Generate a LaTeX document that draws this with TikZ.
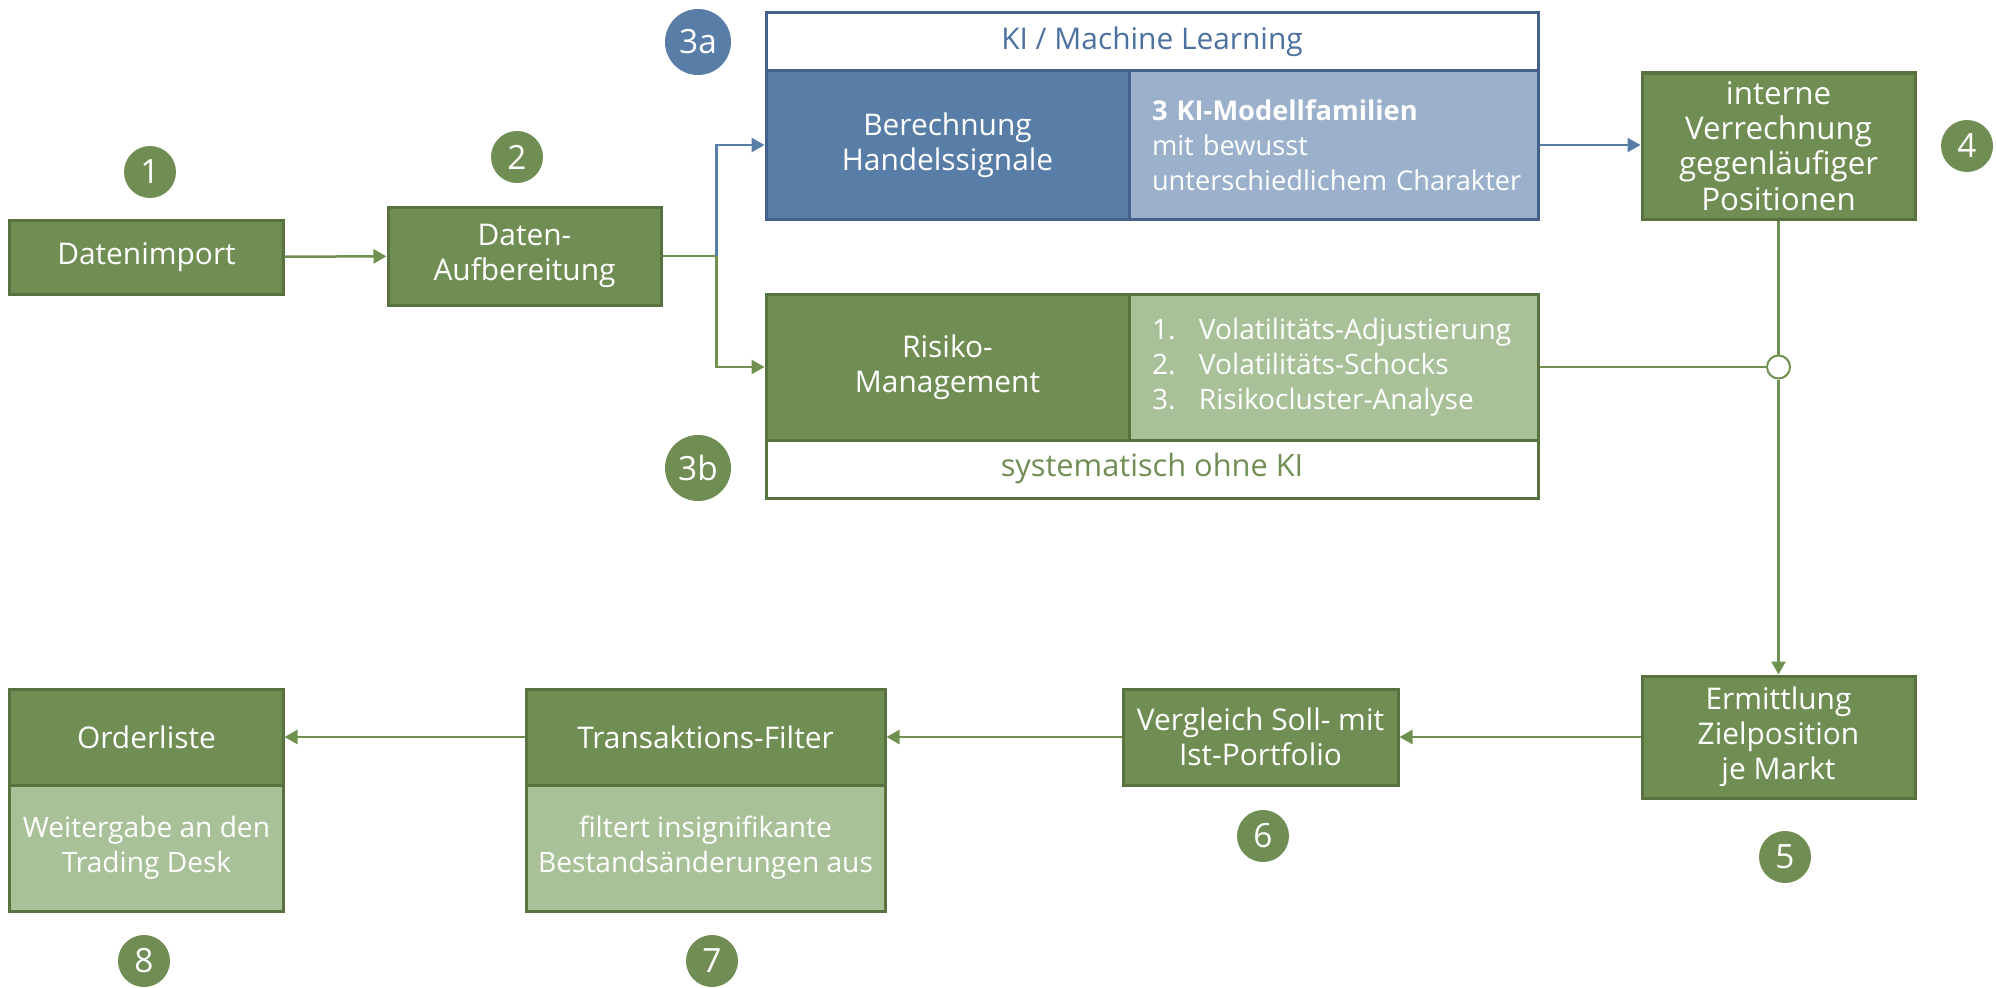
\documentclass[tikz,border=0pt]{standalone}
\usepackage{fontspec}
\setmainfont{Open Sans}
\usetikzlibrary{arrows.meta}
\definecolor{grdark}{HTML}{708E53}
\definecolor{grborder}{HTML}{587340}
\definecolor{grlight}{HTML}{A9C198}
\definecolor{grline}{HTML}{70904F}
\definecolor{bldark}{HTML}{587DA6}
\definecolor{bllight}{HTML}{9BB0CA}
\definecolor{blborder}{HTML}{43618A}
\definecolor{bltext}{HTML}{4C70A0}
\tikzset{
  txt/.style={font=\fontsize{17pt}{20pt}\selectfont, inner sep=0pt},
  gbox/.style={txt, rectangle, draw=grborder, line width=0.6mm, fill=grdark, text=white, align=center},
  glight/.style={gbox, fill=grlight, font=\fontsize{16pt}{20pt}\selectfont},
  bbox/.style={txt, rectangle, draw=blborder, line width=0.6mm, fill=bldark, text=white, align=center},
  blight/.style={bbox, fill=bllight, font=\fontsize{15.5pt}{20pt}\selectfont},
  num/.style={circle, fill=grdark, text=white, minimum size=10.4mm, inner sep=0pt, font=\fontsize{19pt}{22pt}\selectfont},
  bignum/.style={num, minimum size=13.2mm},
  conn/.style={draw=grline, line width=0.5mm},
  arr/.style={conn, -{Triangle[length=2.6mm,width=2.8mm]}},
  junc/.style={circle, draw=grline, fill=white, line width=0.4mm, minimum size=4.6mm, inner sep=0pt}
}
\begin{document}
\begin{tikzpicture}[x=0.2mm,y=-0.2mm]
\useasboundingbox (0,0) rectangle (1996,987);

% top row
\node[gbox, minimum width=54.6mm, minimum height=14.8mm] (datimp) at (146.5,257) {Datenimport};
\node[gbox, minimum width=54.6mm, minimum height=19.6mm] (aufb) at (524.5,256) {Daten-\\Aufbereitung};

% 3a: KI block
\node[txt, rectangle, draw=blborder, line width=0.6mm, fill=white, text=bltext, minimum width=154.4mm, minimum height=11.6mm] (kihead) at (1152,42) {KI / Machine Learning};
\node[bbox, minimum width=72.6mm, minimum height=29.6mm] (berech) at (947.5,145) {Berechnung\\Handelssignale};
\node[blight, minimum width=81.8mm, minimum height=29.6mm, align=left, text width=72.6mm, inner xsep=4.6mm] (kimod) at (1333.5,145)
  {\textbf{3 KI-Modellfamilien}\\mit bewusst\\\hbox{unterschiedlichem Charakter}};

% 3b: Risiko block
\node[gbox, minimum width=72.6mm, minimum height=29.2mm] (risiko) at (947.5,367) {Risiko-\\Management};
\node[glight, minimum width=81.8mm, minimum height=29.2mm, align=left, text width=72.6mm, inner xsep=4.6mm] (risklist) at (1333.5,367)
  {\makebox[9.4mm][l]{1.}Volatilitäts-Adjustierung\\\makebox[9.4mm][l]{2.}Volatilitäts-Schocks\\\makebox[9.4mm][l]{3.}Risikocluster-Analyse};
\node[txt, rectangle, draw=grborder, line width=0.6mm, fill=white, text=grdark, minimum width=154.4mm, minimum height=11.6mm, font=\fontsize{17.5pt}{20pt}\selectfont] (riskfoot) at (1152,469) {systematisch ohne KI};

% right column
\node[gbox, minimum width=54.6mm, minimum height=29.2mm, font=\fontsize{17.8pt}{20pt}\selectfont] (intern) at (1778.5,146) {interne\\Verrechnung\\gegenläufiger\\Positionen};
\node[gbox, minimum width=54.6mm, minimum height=24.4mm] (ermitt) at (1778.5,737) {Ermittlung\\Zielposition\\je Markt};

% bottom row
\node[gbox, minimum width=55mm, minimum height=19.2mm] (vergl) at (1260.5,737) {Vergleich Soll- mit\\Ist-Portfolio};
\node[gbox, minimum width=71.8mm, minimum height=19.2mm] (transf) at (705.5,737) {Transaktions-Filter};
\node[glight, minimum width=71.8mm, minimum height=25.2mm] (transd) at (705.5,848) {filtert insignifikante\\Bestandsänderungen aus};
\node[gbox, minimum width=54.6mm, minimum height=19.2mm] (order) at (146.5,737) {Orderliste};
\node[glight, minimum width=54.6mm, minimum height=25.2mm] (orderd) at (146.5,848) {Weitergabe an den\\Trading Desk};

% numbers
\node[num] (n1) at (150,172) {1};
\node[num] (n2) at (517,157) {2};
\node[bignum, fill=bldark] (n3a) at (698,42) {3a};
\node[bignum] (n3b) at (698,468) {3b};
\node[num] (n4) at (1967,146) {4};
\node[num] (n5) at (1785,857) {5};
\node[num] (n6) at (1263,836) {6};
\node[num] (n7) at (712,961) {7};
\node[num] (n8) at (144,961) {8};

% connectors
\draw[arr] (datimp) -- (aufb);
\draw[conn] (aufb.east) -- ++(54,0) coordinate (split);
\draw[arr, draw=bldark] (split) |- (berech.west);
\draw[arr] (split) |- (risiko.west);
\draw[arr, draw=bldark] (kimod.east) -- (kimod.east -| intern.west);
\node[junc] (junc) at (intern.south |- risklist.east) {};
\draw[conn] (intern.south) -- (junc);
\draw[conn] (risklist.east) -- (junc);
\draw[arr] (junc) -- (ermitt.north);
\draw[arr] (ermitt) -- (vergl);
\draw[arr] (vergl) -- (transf);
\draw[arr] (transf) -- (order);
\end{tikzpicture}
\end{document}
